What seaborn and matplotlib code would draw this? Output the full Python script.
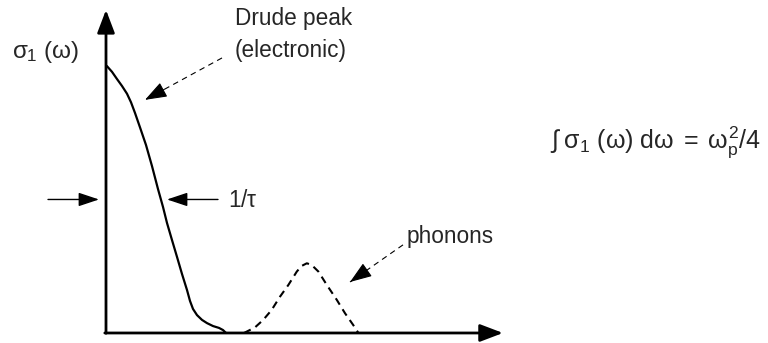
import numpy as np
import pandas as pd
import matplotlib
matplotlib.use("Agg")
import matplotlib.pyplot as plt
import seaborn as sns

# Drude (electronic) contribution to sigma_1(omega)
drude_omega = [0.02, 0.15, 0.275, 0.40, 0.525, 0.625, 0.725, 0.85, 1.0,
               1.15, 1.30, 1.425, 1.525, 1.65, 1.775, 1.90, 2.025, 2.10,
               2.175, 2.275, 2.40, 2.525, 2.675, 2.825, 2.925, 3.0]
drude_sigma = [1.0, 0.978, 0.951, 0.925, 0.896, 0.864, 0.824, 0.770, 0.704,
               0.625, 0.539, 0.472, 0.412, 0.348, 0.285, 0.221, 0.161, 0.120,
               0.090, 0.067, 0.049, 0.037, 0.026, 0.019, 0.011, 0.0]

# Phonon band
phonon_omega = [3.45, 3.725, 3.93, 4.14, 4.35, 4.56, 4.77, 4.89, 5.02,
                5.14, 5.31, 5.52, 5.77, 5.975, 6.18, 6.31]
phonon_sigma = [0.0, 0.021, 0.049, 0.086, 0.136, 0.180, 0.230, 0.251, 0.261,
                0.255, 0.230, 0.180, 0.124, 0.074, 0.030, 0.0]

half_max = 0.5          # level where the width 1/tau is marked
tau_arrow_tip = 1.525   # tip of the 1/tau arrow, just right of the curve

sns.set_theme(style="white")
plt.rcParams["font.family"] = ["Liberation Sans", "DejaVu Sans"]
plt.rcParams["mathtext.fontset"] = "custom"
plt.rcParams["mathtext.rm"] = "Liberation Sans"
plt.rcParams["mathtext.it"] = "Liberation Sans"
plt.rcParams["mathtext.bf"] = "Liberation Sans:bold"
plt.rcParams["mathtext.sf"] = "Liberation Sans"

fig = plt.figure(figsize=(7.68, 3.43), dpi=100)
ax = fig.add_axes([0, 0, 1, 1])
ax.set_xlim(-2.65, 16.55)
ax.set_ylim(-0.0375, 1.247)
ax.axis("off")

drude = pd.DataFrame({"omega": drude_omega, "sigma": drude_sigma})
phon = pd.DataFrame({"omega": phonon_omega, "sigma": phonon_sigma})

sns.lineplot(data=drude, x="omega", y="sigma", ax=ax, color="black",
             lw=1.6, sort=False, solid_joinstyle="round")
sns.lineplot(data=phon, x="omega", y="sigma", ax=ax, color="black",
             lw=1.5, sort=False, linestyle=(0, (3.6, 2.6)))
ax.set_xlabel("")
ax.set_ylabel("")

# Coordinate axes with arrow heads
axis_style = dict(arrowstyle="-|>,head_length=1.0,head_width=0.38",
                  mutation_scale=14, color="black", lw=2.0,
                  shrinkA=0, shrinkB=0)
ax.annotate("", xy=(0, 1.21), xytext=(0, -0.001), arrowprops=axis_style)
ax.annotate("", xy=(9.925, 0), xytext=(-0.03, 0), arrowprops=axis_style)

# Width marker arrows
thin_style = dict(arrowstyle="-|>,head_length=1.05,head_width=0.35",
                  mutation_scale=12, color="black", lw=1.0,
                  shrinkA=0, shrinkB=0)
ax.annotate("", xy=(-0.175, half_max), xytext=(-1.45, half_max),
            arrowprops=thin_style)
ax.annotate("", xy=(tau_arrow_tip, half_max), xytext=(2.8, half_max),
            arrowprops=thin_style)

# Dashed pointer arrows for the labels
def pointer(tip, tail):
    ax.plot([tail[0], tip[0]], [tail[1], tip[1]], color="black", lw=0.8,
            linestyle=(0, (5, 4)))
    dx = tip[0] - tail[0]
    dy = tip[1] - tail[1]
    ax.annotate("", xy=tip, xytext=(tip[0] - 0.25 * dx, tip[1] - 0.25 * dy),
                arrowprops=dict(arrowstyle="-|>,head_length=1.05,head_width=0.38",
                                mutation_scale=13, color="black", lw=0.8,
                                shrinkA=0, shrinkB=0))

pointer((0.975, 0.873), (2.9, 1.03))
pointer((6.1, 0.191), (7.425, 0.330))

fs = 16.3
ax.text(3.225, 1.154, "Drude peak", fontsize=fs, va="baseline", ha="left")
ax.text(3.225, 1.034, "(electronic)", fontsize=fs, va="baseline", ha="left")
ax.text(3.05, 0.472, r"1/$\tau$", fontsize=fs, va="baseline", ha="left")
ax.text(7.525, 0.337, "phonons", fontsize=fs, va="baseline", ha="left")
ax.text(-2.35, 1.03, r"$\sigma_1\ (\omega)$", fontsize=17.5, va="baseline",
        ha="left")
ax.text(11.1, 0.693,
        r"$\int\;\sigma_1\ (\omega)\ \mathrm{d}\omega\;=\;\omega_p^2/4$",
        fontsize=18, va="baseline", ha="left")

fig.savefig("out.png", dpi=100, facecolor="white")
